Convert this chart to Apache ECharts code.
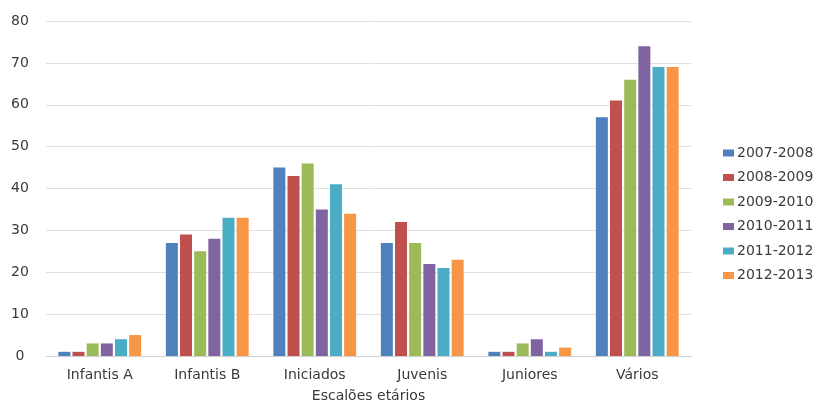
<!DOCTYPE html>
<html><head><meta charset="utf-8">
<script src="https://cdn.jsdelivr.net/npm/echarts@6/dist/echarts.min.js"></script>
<style>html,body{margin:0;padding:0;background:#fff}#c{width:822px;height:401px}</style>
</head><body><div id="c"></div>
<script>
const categories = ['Infantis A','Infantis B','Iniciados','Juvenis','Juniores','Vários'];
const seriesNames = ['2007-2008','2008-2009','2009-2010','2010-2011','2011-2012','2012-2013'];
const s2007 = [1,27,45,27,1,57];
const s2008 = [1,29,43,32,1,61];
const s2009 = [3,25,46,27,3,66];
const s2010 = [3,28,35,22,4,74];
const s2011 = [4,33,41,21,1,69];
const s2012 = [5,33,34,23,2,69];
const seriesValues = [s2007,s2008,s2009,s2010,s2011,s2012];
const colors = ['#4F81BD','#C0504D','#9BBB59','#8064A2','#4BACC6','#F79646'];
const font = 'DejaVu Sans';
const chart = echarts.init(document.getElementById('c'));
chart.setOption({
  animation:false,
  color: colors,
  textStyle:{fontFamily:font},
  grid:{left:46,right:131,top:21,bottom:45,containLabel:false,outerBoundsMode:'none'},
  legend:{
    orient:'vertical', left:718, top:141, itemWidth:11, itemHeight:7, itemGap:10.5,
    icon:'rect',
    textStyle:{fontFamily:font,fontSize:14,lineHeight:14,color:'#3a3a3a',padding:[0,0,0,-2]},
    data: seriesNames
  },
  xAxis:{
    type:'category', data:categories,
    name:'Escalões etários', nameLocation:'middle', nameGap:33,
    nameTextStyle:{fontFamily:font,fontSize:14,color:'#3a3a3a'},
    axisLine:{lineStyle:{color:'#d0d0d0',width:1}},
    axisTick:{show:false},
    axisLabel:{fontFamily:font,fontSize:14,color:'#3a3a3a',margin:12}
  },
  yAxis:{
    type:'value', min:0, max:80, interval:10,
    axisLine:{show:false}, axisTick:{show:false},
    splitLine:{lineStyle:{color:'#e0e0e0'}},
    axisLabel:{fontFamily:font,fontSize:14,color:'#3a3a3a',margin:26,align:'center'}
  },
  series: seriesNames.map((n,i)=>({
    name:n, type:'bar', data:seriesValues[i], barWidth:12, barGap:'18%'
  }))
});
</script></body></html>
